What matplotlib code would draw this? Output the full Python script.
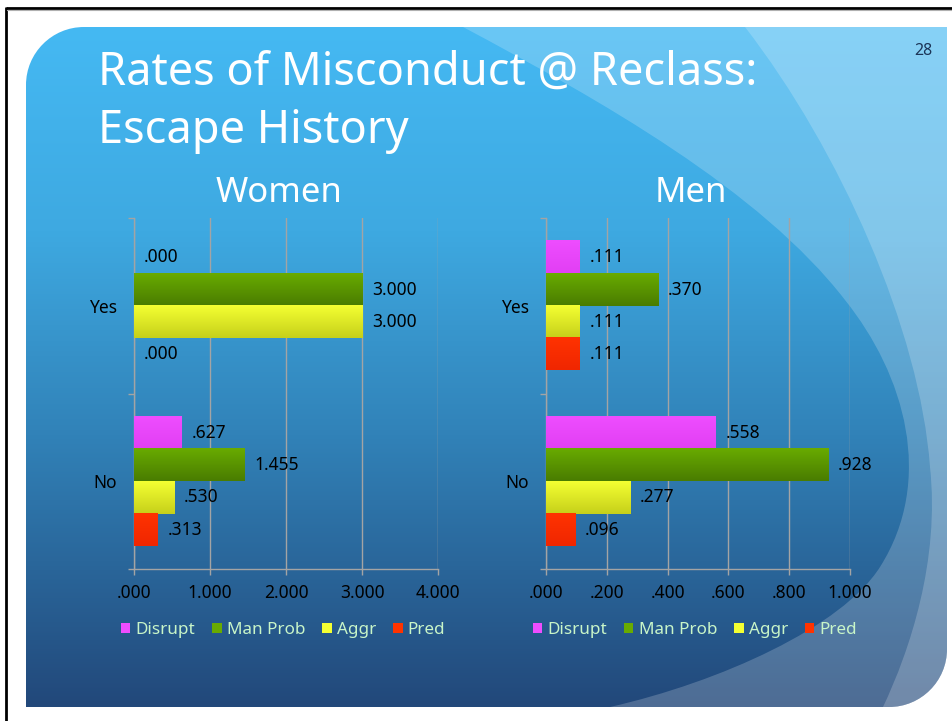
import numpy as np
import matplotlib.pyplot as plt
from matplotlib.path import Path
from matplotlib.patches import PathPatch, Patch
from matplotlib.colors import LinearSegmentedColormap

plt.rcParams['font.family'] = ['Noto Sans', 'DejaVu Sans']

# data (category order bottom->top: No, Yes)
categories = ['No', 'Yes']
series = ['Disrupt', 'Man Prob', 'Aggr', 'Pred']

women_disrupt = [0.627, 0.000]
women_manprob = [1.455, 3.000]
women_aggr = [0.530, 3.000]
women_pred = [0.313, 0.000]

men_disrupt = [0.558, 0.111]
men_manprob = [0.928, 0.370]
men_aggr = [0.277, 0.111]
men_pred = [0.096, 0.111]

women_ticks = [0, 1, 2, 3, 4]
men_ticks = [0, 0.2, 0.4, 0.6, 0.8, 1.0]

# (top colour, bottom colour) for each series
bar_colors = {
    'Disrupt': ('#ee4dff', '#e23ff4'),
    'Man Prob': ('#69ab00', '#497c00'),
    'Aggr': ('#f4ff32', '#c6d01a'),
    'Pred': ('#ff3300', '#f02600'),
}
legend_text = '#c8f5c8'
grid_col = '#a4a4a4'


def fmt(v):
    s = f"{v:.3f}"
    return s[1:] if s.startswith('0') else s


def draw_background(fig):
    bg = fig.add_axes([0, 0, 1, 1], zorder=-5)
    bg.set_xlim(0, 953)
    bg.set_ylim(721, 0)
    bg.axis('off')

    L, R, T, B, r, k = 26, 947, 27, 707, 58, 0.5523
    verts = [(L, B), (L, T + r),
             (L, T + r - k * r), (L + r - k * r, T), (L + r, T),
             (R, T), (R, B - r),
             (R, B - r + k * r), (R - r + k * r, B), (R - r, B),
             (L, B), (L, B)]
    codes = [Path.MOVETO, Path.LINETO,
             Path.CURVE4, Path.CURVE4, Path.CURVE4,
             Path.LINETO, Path.LINETO,
             Path.CURVE4, Path.CURVE4, Path.CURVE4,
             Path.LINETO, Path.CLOSEPOLY]
    panel = PathPatch(Path(verts, codes), facecolor='none', edgecolor='none')
    bg.add_patch(panel)

    cmap = LinearSegmentedColormap.from_list(
        'slide', [(0, '#45b9f3'), (0.3, '#3ea9e1'), (0.6, '#3182b8'), (1, '#22487a')])
    grad = np.linspace(0, 1, 256).reshape(-1, 1)
    im = bg.imshow(grad, extent=(L, R, B, T), origin='upper', aspect='auto', cmap=cmap)
    im.set_clip_path(panel)

    # lighter sweeping shapes on the right
    arc1 = Path([(463, 27), (600, 100), (760, 190), (845, 300),
                 (905, 375), (935, 480), (880, 567),
                 (842, 627), (720, 682), (610, 707),
                 (980, 707), (980, 27), (463, 27)],
                [Path.MOVETO, Path.CURVE4, Path.CURVE4, Path.CURVE4,
                 Path.CURVE4, Path.CURVE4, Path.CURVE4,
                 Path.CURVE4, Path.CURVE4, Path.CURVE4,
                 Path.LINETO, Path.LINETO, Path.CLOSEPOLY])
    p1 = PathPatch(arc1, facecolor='white', edgecolor='none', alpha=0.2)
    bg.add_patch(p1)
    p1.set_clip_path(panel)

    arc2 = Path([(745, 27), (840, 150), (920, 330), (930, 467),
                 (940, 560), (910, 650), (883, 707),
                 (980, 707), (980, 27), (745, 27)],
                [Path.MOVETO, Path.CURVE4, Path.CURVE4, Path.CURVE4,
                 Path.CURVE4, Path.CURVE4, Path.CURVE4,
                 Path.LINETO, Path.LINETO, Path.CLOSEPOLY])
    p2 = PathPatch(arc2, facecolor='white', edgecolor='none', alpha=0.2)
    bg.add_patch(p2)
    p2.set_clip_path(panel)

    # slide frame
    bg.plot([6, 953], [7.5, 7.5], color='black', lw=2, solid_capstyle='butt')
    bg.plot([6, 6], [7, 721], color='black', lw=2, solid_capstyle='butt')
    bg.plot([7, 953], [9.5, 9.5], color='#b0b0b0', lw=0.8)


def draw_panel(ax, values, ticks, xmax):
    y = np.arange(len(categories))
    h = 0.184
    offsets = [1.5 * h, 0.5 * h, -0.5 * h, -1.5 * h]
    for name, vals, off in zip(series, values, offsets):
        bars = ax.barh(y + off, vals, height=h, color=bar_colors[name][1],
                       edgecolor='none', zorder=3)
        top, bot = bar_colors[name]
        cmap = LinearSegmentedColormap.from_list(name, [bot, top])
        for rect, v in zip(bars, vals):
            x0, y0 = rect.get_x(), rect.get_y()
            w, hh = rect.get_width(), rect.get_height()
            if w > 0:
                ax.imshow(np.linspace(0, 1, 64).reshape(-1, 1),
                          extent=(x0, x0 + w, y0, y0 + hh), origin='lower',
                          aspect='auto', cmap=cmap, zorder=3.5)
            ax.annotate(fmt(v), xy=(x0 + w, y0 + hh / 2), xytext=(7, 0),
                        textcoords='offset points', ha='left', va='center',
                        fontsize=12.5, color='black', zorder=5)

    ax.set_xlim(0, xmax)
    ax.set_ylim(-0.5, len(categories) - 0.5)
    ax.set_aspect('auto')
    ax.set_facecolor('none')

    ax.set_xticks(ticks)
    ax.set_xticklabels([fmt(t) for t in ticks])
    ax.set_yticks(y)
    ax.set_yticklabels(categories)
    ax.set_yticks(np.arange(len(categories) + 1) - 0.5, minor=True)
    ax.tick_params(axis='y', which='major', length=0, pad=12, labelsize=12.5)
    ax.tick_params(axis='y', which='minor', length=4.5, width=1, color=grid_col, direction='out')
    ax.tick_params(axis='x', length=4, width=1, color=grid_col, pad=7, labelsize=12.5)

    ax.grid(axis='x', color=grid_col, lw=1, zorder=1)
    for s in ['top', 'right']:
        ax.spines[s].set_visible(False)
    for s in ['left', 'bottom']:
        ax.spines[s].set_color(grid_col)
        ax.spines[s].set_linewidth(1)

    handles = [Patch(facecolor=bar_colors[n][0], edgecolor='none', label=n) for n in series]
    leg = ax.legend(handles=handles, loc='center', bbox_to_anchor=(0.49, -0.174),
                    ncol=4, frameon=False, handlelength=0.55, handleheight=0.55,
                    handletextpad=0.3, columnspacing=1.0, fontsize=12.3,
                    borderaxespad=0)
    for t in leg.get_texts():
        t.set_color(legend_text)


fig = plt.figure(figsize=(9.53, 7.21), dpi=100)
fig.patch.set_facecolor('white')
draw_background(fig)

ax_w = fig.add_axes([134 / 953, 1 - 569 / 721, 304.3 / 953, 351 / 721])
ax_m = fig.add_axes([546 / 953, 1 - 569 / 721, 304 / 953, 351 / 721])

draw_panel(ax_w, [women_disrupt, women_manprob, women_aggr, women_pred], women_ticks, 4)
draw_panel(ax_m, [men_disrupt, men_manprob, men_aggr, men_pred], men_ticks, 1.0)

fig.text(98 / 953, 1 - 85 / 721, 'Rates of Misconduct @ Reclass:', fontsize=32.5,
         color='white', ha='left', va='baseline')
fig.text(98 / 953, 1 - 143 / 721, 'Escape History', fontsize=32.5,
         color='white', ha='left', va='baseline')
fig.text(279 / 953, 1 - 202 / 721, 'Women', fontsize=25, color='white',
         ha='center', va='baseline')
fig.text(691 / 953, 1 - 202 / 721, 'Men', fontsize=25, color='white',
         ha='center', va='baseline')
fig.text(923 / 953, 1 - 51 / 721, '28', fontsize=11.5, color='#1c3557',
         ha='center', va='center')

fig.savefig('out.png', dpi=100)
